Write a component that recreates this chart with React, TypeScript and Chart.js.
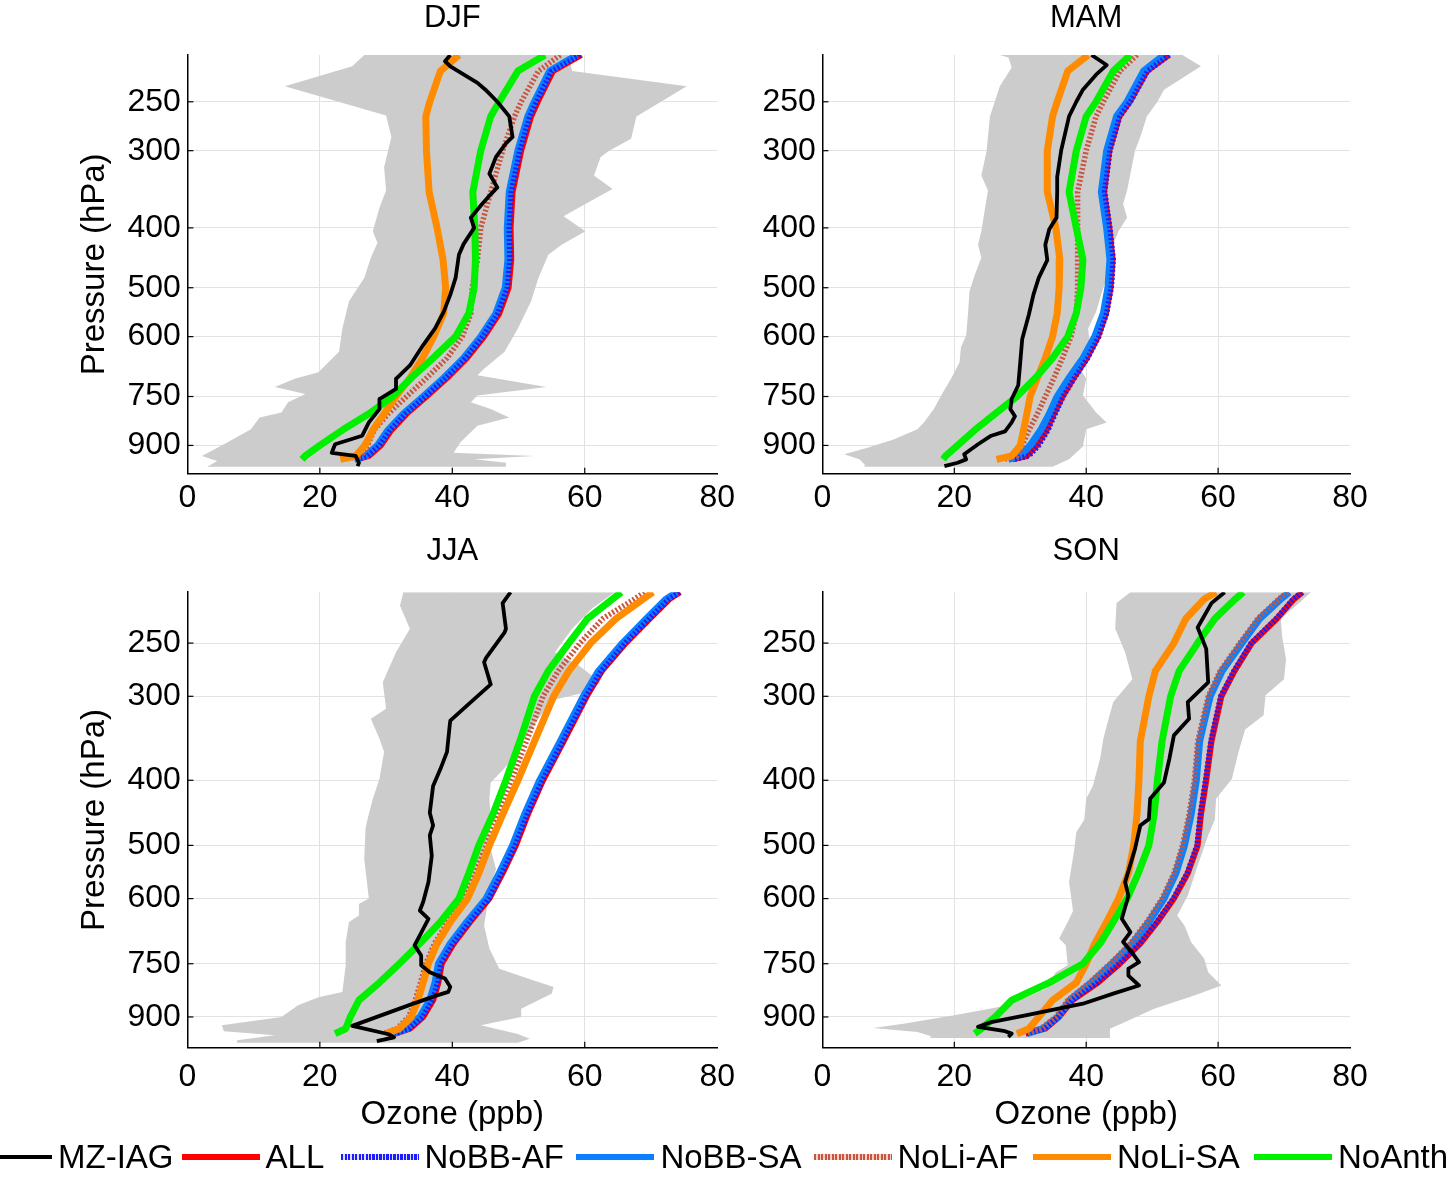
import React, { useEffect, useRef } from 'react';
import { Chart, registerables } from 'chart.js';

Chart.register(...registerables);

const FONT = "'Liberation Sans', Arial, Helvetica, sans-serif";

// ---- axis ticks ----
const P_TICKS = [250, 300, 400, 500, 600, 750, 900];
const X_TICKS = [0, 20, 40, 60, 80];
const X_INNER_TICKS = [20, 40, 60];

// ---- model pressure levels (hPa) ----
const P_TOP = [210, 223, 250, 264, 300, 350, 400, 450, 500, 550, 600, 650, 700, 750, 800, 850, 900, 936, 948];
const P_BOT = [210, 215, 230, 250, 275, 300, 350, 400, 450, 500, 550, 600, 650, 700, 750, 800, 850, 900, 937, 953];

// ---- DJF ----
const DJF_ALL = [59.5, 55.2, 52.9, 51.9, 50.4, 49.1, 48.8, 48.9, 48.5, 47.1, 44.8, 42.2, 39.2, 36.1, 33.1, 30.8, 29.2, 27.4, 25.7];
const DJF_NOBB_AF = [59.3, 55.0, 52.7, 51.7, 50.2, 48.9, 48.6, 48.7, 48.3, 46.9, 44.6, 42.0, 39.0, 35.9, 32.9, 30.6, 29.0, 27.2, 25.5];
const DJF_NOBB_SA = [58.8, 54.7, 52.4, 51.4, 49.9, 48.6, 48.3, 48.4, 48.0, 46.6, 44.3, 41.7, 38.7, 35.6, 32.6, 30.3, 28.7, 26.9, 25.2];
const DJF_NOLI_AF = [56.3, 53.0, 50.4, 49.4, 47.6, 45.8, 44.3, 43.8, 43.0, 42.8, 41.5, 39.2, 36.1, 33.1, 30.3, 28.2, 27.2, 26.2, 23.6];
const DJF_NOLI_SA = [41.0, 38.2, 36.6, 36.0, 36.1, 36.5, 37.7, 38.6, 39.0, 38.7, 37.2, 35.5, 33.6, 31.5, 29.7, 28.0, 26.8, 25.4, 23.1];
const DJF_NOANTH = [54.0, 49.9, 47.1, 45.8, 44.3, 43.1, 43.4, 43.5, 43.3, 42.5, 40.5, 37.1, 33.8, 31.0, 27.4, 23.4, 20.0, 17.8, 17.3];
const DJF_OBS_P = [210, 215, 219, 233, 239, 250, 264, 285, 292, 307, 327, 344, 353, 366, 385, 400, 425, 442, 482, 513, 547, 582, 619, 668, 702, 729, 757, 786, 826, 868, 896, 925, 936, 960, 972];
const DJF_OBS = [39.7, 38.9, 39.7, 43.8, 45.0, 46.8, 48.6, 49.1, 48.1, 46.6, 45.6, 46.8, 45.8, 44.5, 42.8, 43.3, 41.7, 41.0, 40.5, 39.7, 38.7, 37.4, 35.6, 33.6, 31.5, 31.5, 29.0, 29.0, 27.4, 26.4, 22.3, 21.8, 25.4, 25.9, 25.7];
const DJF_ENV_L_P = [210, 219, 236, 263, 285, 319, 348, 371, 405, 423, 447, 482, 526, 582, 635, 660, 685, 702, 724, 743, 766, 796, 811, 847, 890, 936, 954, 974];
const DJF_ENV_L = [26.7, 24.9, 14.7, 30.0, 30.8, 29.7, 30.0, 29.0, 28.0, 28.7, 27.7, 26.7, 24.4, 23.4, 22.9, 21.3, 19.8, 16.2, 13.2, 17.8, 15.2, 14.2, 10.9, 9.6, 6.0, 2.2, 4.5, 3.0];
const DJF_ENV_R_P = [210, 223, 236, 264, 287, 300, 307, 329, 346, 362, 383, 405, 426, 442, 482, 526, 582, 635, 676, 693, 724, 747, 766, 786, 811, 836, 890, 925, 936, 948, 960, 974];
const DJF_ENV_R = [57.5, 58.1, 75.4, 67.8, 67.0, 63.7, 62.4, 61.4, 64.2, 60.9, 56.8, 60.1, 56.5, 54.5, 53.0, 51.9, 49.9, 47.9, 44.8, 43.8, 54.2, 43.8, 42.8, 45.8, 48.6, 43.8, 41.2, 40.2, 52.4, 43.3, 48.1, 48.1];

// ---- MAM ----
const MAM_ALL = [52.5, 49.2, 46.6, 45.0, 43.5, 42.7, 43.5, 44.0, 43.7, 43.0, 41.8, 40.1, 38.1, 36.4, 35.1, 34.0, 32.5, 31.0, 28.8];
const MAM_NOBB_AF = [52.6, 49.3, 46.7, 45.1, 43.6, 42.8, 43.6, 44.1, 43.8, 43.1, 41.9, 40.2, 38.2, 36.5, 35.3, 34.2, 32.8, 31.3, 29.0];
const MAM_NOBB_SA = [51.8, 48.7, 46.2, 44.6, 43.1, 42.3, 43.1, 43.6, 43.3, 42.6, 41.3, 39.5, 37.4, 35.6, 34.4, 33.1, 31.5, 30.0, 28.2];
const MAM_NOLI_AF = [47.7, 45.1, 42.6, 41.5, 40.0, 38.7, 38.7, 38.7, 38.7, 38.5, 37.7, 36.4, 35.1, 33.8, 32.6, 31.3, 30.3, 29.5, 27.7];
const MAM_NOLI_SA = [40.3, 37.2, 35.6, 34.9, 34.1, 34.1, 35.4, 36.0, 35.9, 35.6, 34.9, 33.8, 32.6, 31.5, 31.0, 30.5, 30.0, 28.7, 26.4];
const MAM_NOANTH = [46.7, 44.1, 41.5, 40.0, 38.5, 37.4, 38.5, 39.5, 39.2, 38.5, 37.2, 34.9, 32.3, 29.5, 26.2, 23.1, 20.5, 18.7, 18.3];
const MAM_OBS_P = [210, 218, 226, 239, 250, 264, 300, 331, 350, 385, 402, 426, 451, 482, 513, 553, 605, 660, 719, 757, 786, 807, 826, 854, 868, 896, 930, 948, 960, 972];
const MAM_OBS = [40.8, 43.1, 41.5, 39.5, 38.5, 37.4, 36.2, 35.6, 35.6, 35.5, 34.4, 33.8, 34.1, 32.8, 32.0, 31.3, 30.3, 30.0, 29.7, 28.7, 28.5, 29.2, 28.7, 27.7, 25.6, 23.6, 21.5, 21.8, 20.5, 18.5];
const MAM_ENV_L_P = [210, 212, 220, 236, 264, 300, 329, 348, 405, 426, 447, 477, 507, 547, 597, 625, 660, 702, 747, 786, 826, 847, 880, 909, 930, 948, 966, 974];
const MAM_ENV_L = [26.9, 28.2, 28.7, 26.9, 25.4, 24.9, 24.1, 25.1, 24.1, 23.6, 24.1, 23.1, 22.3, 22.1, 21.8, 21.0, 20.8, 19.5, 18.0, 16.9, 15.4, 14.4, 10.8, 6.7, 3.3, 5.6, 6.4, 6.4];
const MAM_ENV_R_P = [210, 219, 239, 250, 264, 285, 300, 319, 348, 366, 385, 405, 426, 447, 500, 547, 582, 611, 660, 702, 747, 796, 826, 847, 904, 948, 974];
const MAM_ENV_R = [54.6, 57.4, 51.8, 50.8, 49.2, 48.2, 47.4, 46.9, 46.2, 45.6, 46.2, 44.9, 44.1, 44.1, 42.6, 41.5, 40.3, 40.5, 38.5, 40.0, 39.5, 41.5, 43.1, 40.0, 39.5, 37.4, 34.9];

// ---- JJA ----
const JJA_ALL = [74.4, 72.8, 69.8, 66.2, 62.6, 60.3, 56.8, 53.7, 51.4, 49.6, 47.6, 45.6, 42.7, 40.2, 38.4, 37.9, 37.1, 35.6, 33.6, 31.4];
const JJA_NOBB_AF = [74.3, 72.7, 69.7, 66.1, 62.5, 60.2, 56.7, 53.6, 51.3, 49.5, 47.5, 45.5, 42.6, 40.1, 38.3, 37.8, 37.0, 35.5, 33.5, 31.3];
const JJA_NOBB_SA = [73.9, 72.3, 69.3, 65.7, 62.1, 59.8, 56.3, 53.2, 50.9, 49.1, 47.1, 45.1, 42.2, 39.7, 37.9, 37.4, 36.6, 35.1, 33.1, 31.0];
const JJA_NOLI_AF = [69.0, 67.5, 62.7, 59.3, 56.0, 53.7, 51.2, 48.9, 46.9, 45.1, 43.5, 41.8, 39.3, 37.3, 36.0, 35.2, 34.4, 33.4, 31.6, 29.6];
const JJA_NOLI_SA = [70.3, 68.8, 64.7, 60.9, 57.6, 55.3, 52.4, 49.9, 47.6, 45.6, 44.0, 42.3, 39.7, 37.7, 36.4, 35.6, 34.8, 33.8, 32.0, 30.0];
const JJA_NOANTH = [65.5, 64.2, 60.4, 57.6, 54.5, 52.4, 50.2, 48.1, 46.1, 44.0, 42.5, 41.0, 38.2, 35.1, 32.0, 29.0, 25.9, 24.6, 23.9, 22.3];
const JJA_OBS_P = [210, 218, 238, 241, 263, 267, 288, 306, 326, 332, 363, 385, 408, 447, 467, 483, 518, 567, 607, 625, 643, 704, 729, 754, 772, 789, 812, 826, 836, 862, 928, 955, 965, 978];
const JJA_OBS = [48.8, 47.6, 48.1, 47.9, 45.1, 44.8, 45.8, 42.8, 39.7, 39.6, 39.2, 38.2, 37.1, 36.6, 37.1, 36.6, 36.9, 36.4, 35.6, 35.1, 36.4, 34.3, 35.3, 35.3, 36.6, 38.9, 39.7, 39.4, 37.7, 33.8, 24.9, 30.4, 31.2, 28.6];
const JJA_ENV_L_P = [210, 220, 238, 258, 286, 313, 324, 347, 363, 398, 426, 457, 472, 524, 600, 611, 636, 650, 696, 754, 826, 841, 865, 900, 926, 945, 958, 975, 983];
const JJA_ENV_L = [32.6, 32.1, 33.6, 31.5, 29.5, 30.0, 27.7, 29.0, 29.7, 29.0, 28.0, 27.2, 26.9, 26.7, 27.4, 25.9, 25.9, 24.4, 23.9, 23.9, 23.4, 19.8, 16.7, 14.2, 5.2, 5.5, 13.2, 7.5, 7.5];
const JJA_ENV_R_P = [210, 222, 238, 258, 270, 286, 296, 304, 324, 347, 372, 389, 403, 426, 457, 483, 506, 542, 580, 614, 658, 712, 763, 789, 812, 831, 875, 900, 926, 954, 970, 983];
const JJA_ENV_R = [64.5, 61.1, 58.1, 55.5, 59.1, 62.4, 60.1, 55.0, 53.0, 50.9, 49.1, 47.3, 45.8, 45.6, 45.8, 45.6, 45.8, 46.6, 45.6, 45.3, 44.8, 45.6, 47.1, 51.4, 55.3, 55.0, 50.4, 50.4, 44.3, 49.9, 51.7, 49.9];

// ---- SON ----
const SON_ALL = [72.8, 71.5, 68.9, 65.1, 62.5, 60.5, 59.0, 58.2, 57.4, 56.9, 55.4, 53.3, 50.8, 48.2, 45.1, 41.8, 37.9, 35.9, 33.8, 30.8];
const SON_NOBB_AF = [72.7, 71.4, 68.8, 65.0, 62.4, 60.4, 58.9, 58.1, 57.3, 56.8, 55.3, 53.2, 50.7, 48.1, 45.0, 41.7, 37.8, 35.8, 33.7, 30.8];
const SON_NOBB_SA = [70.8, 69.5, 66.3, 63.6, 60.6, 58.8, 57.2, 56.7, 55.9, 54.9, 53.6, 51.8, 49.5, 47.0, 43.9, 40.8, 37.5, 35.7, 33.4, 31.0];
const SON_NOLI_AF = [70.5, 69.2, 66.0, 63.3, 60.3, 58.5, 56.9, 56.4, 55.6, 54.6, 53.3, 51.5, 49.2, 46.7, 43.6, 40.5, 37.2, 35.4, 33.1, 30.8];
const SON_NOLI_SA = [59.7, 57.9, 55.1, 53.3, 50.5, 49.5, 48.2, 48.0, 47.7, 47.2, 46.4, 44.9, 43.1, 41.3, 40.0, 38.5, 34.9, 32.8, 31.3, 29.5];
const SON_NOANTH = [63.8, 62.6, 59.5, 56.9, 54.1, 52.8, 51.5, 50.8, 50.3, 49.5, 47.9, 46.2, 44.1, 42.1, 39.5, 34.4, 28.7, 26.2, 24.1, 23.1];
const SON_OBS_P = [210, 218, 237, 255, 286, 306, 324, 343, 372, 403, 426, 457, 467, 506, 567, 594, 643, 673, 696, 721, 746, 763, 781, 808, 831, 860, 895, 916, 931, 945, 953, 964];
const SON_OBS = [61.0, 59.0, 56.9, 58.2, 58.5, 55.4, 55.6, 53.3, 52.6, 51.8, 49.7, 49.5, 48.2, 47.4, 45.9, 46.4, 45.4, 46.7, 45.6, 46.9, 48.0, 46.4, 46.4, 48.0, 44.1, 39.5, 30.8, 25.6, 23.6, 27.7, 28.7, 28.2];
const SON_ENV_L_P = [210, 218, 238, 258, 283, 306, 332, 347, 372, 408, 426, 458, 478, 506, 567, 626, 650, 688, 704, 754, 772, 818, 865, 895, 921, 935, 948, 961, 967];
const SON_ENV_L = [46.7, 44.6, 44.4, 45.9, 47.0, 44.1, 43.1, 42.6, 42.1, 41.0, 40.0, 39.7, 38.5, 38.2, 37.4, 38.0, 37.2, 35.9, 36.9, 37.2, 35.4, 33.8, 28.2, 20.0, 12.3, 7.7, 14.4, 16.4, 16.4];
const SON_ENV_R_P = [210, 220, 230, 244, 264, 283, 299, 320, 336, 363, 398, 426, 458, 483, 536, 594, 636, 658, 696, 737, 772, 808, 836, 875, 911, 937, 967];
const SON_ENV_R = [74.1, 71.8, 69.5, 69.7, 70.3, 70.0, 67.2, 66.9, 64.1, 63.1, 62.1, 59.7, 59.5, 58.5, 56.9, 55.4, 53.8, 54.9, 55.9, 57.9, 58.5, 60.5, 56.4, 50.3, 46.4, 43.6, 43.6];

// ---- series styles ----
const C_OBS = '#000000';
const C_ALL = '#ff0000';
const C_NOBB_AF = '#1c1cff';
const C_NOBB_SA = '#0a80ff';
const C_NOLI_AF = '#c8553d';
const C_NOLI_SA = '#ff8c00';
const C_NOANTH = '#00f000';
const C_RANGE = '#cccccc';

type Pt = { x: number; y: number };
const zip = (ps: number[], xs: number[]): Pt[] => ps.map((p, i) => ({ x: xs[i], y: p }));
const envelope = (lp: number[], lx: number[], rp: number[], rx: number[]): Pt[] => [
  ...zip(lp, lx),
  ...zip(rp, rx).reverse(),
];

type Spec = {
  title: string;
  left: number;
  top: number;
  w: number;
  h: number;
  padRight: number;
  titlePadBottom: number;
  xAxisH: number;
  xTickPad: number;
  yTitle: boolean;
  xTitle: boolean;
  p: number[];
  all: number[];
  nobbAf: number[];
  nobbSa: number[];
  noliAf: number[];
  noliSa: number[];
  noanth: number[];
  obsP: number[];
  obs: number[];
  envLP: number[];
  envL: number[];
  envRP: number[];
  envR: number[];
};

const PANELS: Spec[] = [
  {
    title: 'DJF', left: 0, top: 0, w: 741, h: 530, padRight: 23.8, titlePadBottom: 17.8, xAxisH: 56.3, xTickPad: 5,
    yTitle: true, xTitle: false, p: P_TOP,
    all: DJF_ALL, nobbAf: DJF_NOBB_AF, nobbSa: DJF_NOBB_SA, noliAf: DJF_NOLI_AF, noliSa: DJF_NOLI_SA, noanth: DJF_NOANTH,
    obsP: DJF_OBS_P, obs: DJF_OBS, envLP: DJF_ENV_L_P, envL: DJF_ENV_L, envRP: DJF_ENV_R_P, envR: DJF_ENV_R,
  },
  {
    title: 'MAM', left: 635, top: 0, w: 739, h: 530, padRight: 24, titlePadBottom: 17.8, xAxisH: 56.3, xTickPad: 5,
    yTitle: false, xTitle: false, p: P_TOP,
    all: MAM_ALL, nobbAf: MAM_NOBB_AF, nobbSa: MAM_NOBB_SA, noliAf: MAM_NOLI_AF, noliSa: MAM_NOLI_SA, noanth: MAM_NOANTH,
    obsP: MAM_OBS_P, obs: MAM_OBS, envLP: MAM_ENV_L_P, envL: MAM_ENV_L, envRP: MAM_ENV_R_P, envR: MAM_ENV_R,
  },
  {
    title: 'JJA', left: 0, top: 533, w: 746, h: 607, padRight: 28.8, titlePadBottom: 22, xAxisH: 92.3, xTickPad: 10,
    yTitle: true, xTitle: true, p: P_BOT,
    all: JJA_ALL, nobbAf: JJA_NOBB_AF, nobbSa: JJA_NOBB_SA, noliAf: JJA_NOLI_AF, noliSa: JJA_NOLI_SA, noanth: JJA_NOANTH,
    obsP: JJA_OBS_P, obs: JJA_OBS, envLP: JJA_ENV_L_P, envL: JJA_ENV_L, envRP: JJA_ENV_R_P, envR: JJA_ENV_R,
  },
  {
    title: 'SON', left: 635, top: 533, w: 744, h: 607, padRight: 29, titlePadBottom: 22, xAxisH: 92.3, xTickPad: 10,
    yTitle: false, xTitle: true, p: P_BOT,
    all: SON_ALL, nobbAf: SON_NOBB_AF, nobbSa: SON_NOBB_SA, noliAf: SON_NOLI_AF, noliSa: SON_NOLI_SA, noanth: SON_NOANTH,
    obsP: SON_OBS_P, obs: SON_OBS, envLP: SON_ENV_L_P, envL: SON_ENV_L, envRP: SON_ENV_R_P, envR: SON_ENV_R,
  },
];

const innerTicks = {
  id: 'innerTicks',
  afterDraw(chart: any) {
    const { ctx, chartArea: a, scales } = chart;
    ctx.save();
    ctx.strokeStyle = '#000';
    ctx.lineWidth = 1.2;
    X_INNER_TICKS.forEach((v) => {
      const px = scales.x.getPixelForValue(v);
      ctx.beginPath();
      ctx.moveTo(px, a.bottom);
      ctx.lineTo(px, a.bottom - 6);
      ctx.stroke();
    });
    P_TICKS.forEach((v) => {
      const py = scales.y.getPixelForValue(v);
      ctx.beginPath();
      ctx.moveTo(a.left, py);
      ctx.lineTo(a.left + 6, py);
      ctx.stroke();
    });
    ctx.restore();
  },
};

function makeConfig(s: Spec): any {
  const line = (label: string, data: Pt[], color: string, width: number, dash: number[] = []) => ({
    label,
    data,
    borderColor: color,
    backgroundColor: color,
    borderWidth: width,
    borderDash: dash,
    borderJoinStyle: 'round',
    borderCapStyle: 'butt',
    pointRadius: 0,
    pointHoverRadius: 0,
    fill: false,
    tension: 0,
    clip: 0,
  });
  const GRID = '#e2e2e2';
  return {
    type: 'line',
    data: {
      datasets: [
        line('MZ-IAG', zip(s.obsP, s.obs), C_OBS, 3.8),
        line('NoAnth', zip(s.p, s.noanth), C_NOANTH, 7),
        line('NoLi-SA', zip(s.p, s.noliSa), C_NOLI_SA, 7),
        line('NoLi-AF', zip(s.p, s.noliAf), C_NOLI_AF, 5.5, [2, 2]),
        line('NoBB-AF', zip(s.p, s.nobbAf), C_NOBB_AF, 5.5, [2, 2]),
        line('NoBB-SA', zip(s.p, s.nobbSa), C_NOBB_SA, 7),
        line('ALL', zip(s.p, s.all), C_ALL, 6),
        {
          label: 'MZ-IAG range',
          data: envelope(s.envLP, s.envL, s.envRP, s.envR),
          borderWidth: 0,
          borderColor: 'rgba(0,0,0,0)',
          backgroundColor: C_RANGE,
          fill: 'shape',
          pointRadius: 0,
          pointHoverRadius: 0,
          tension: 0,
          clip: 0,
        },
      ],
    },
    options: {
      responsive: false,
      maintainAspectRatio: false,
      animation: false,
      events: [],
      layout: { padding: { left: 0, right: s.padRight, top: 0, bottom: 0 } },
      plugins: {
        legend: { display: false },
        tooltip: { enabled: false },
        title: {
          display: true,
          text: s.title,
          color: '#000',
          fullSize: false,
          font: { family: FONT, size: 31, weight: 'normal' },
          padding: { top: 0, bottom: s.titlePadBottom },
        },
      },
      scales: {
        x: {
          type: 'linear',
          min: 0,
          max: 80,
          afterBuildTicks: (sc: any) => {
            sc.ticks = X_TICKS.map((v) => ({ value: v }));
          },
          afterFit: (sc: any) => {
            sc.height = s.xAxisH;
          },
          ticks: {
            autoSkip: false,
            maxRotation: 0,
            padding: s.xTickPad,
            color: '#000',
            font: { family: FONT, size: 32 },
            callback: (v: any) => String(v),
          },
          grid: {
            drawTicks: false,
            lineWidth: 1,
            color: (c: any) => (c.tick && (c.tick.value === 0 || c.tick.value === 80) ? 'rgba(0,0,0,0)' : GRID),
          },
          border: { display: true, color: '#000', width: 1.5 },
          title: {
            display: s.xTitle,
            text: 'Ozone (ppb)',
            color: '#000',
            font: { family: FONT, size: 33 },
            padding: { top: 0, bottom: 5.2 },
          },
        },
        y: {
          type: 'logarithmic',
          min: 210,
          max: 1000,
          reverse: true,
          afterBuildTicks: (sc: any) => {
            sc.ticks = P_TICKS.map((v) => ({ value: v }));
          },
          afterFit: (sc: any) => {
            sc.width = 187.4;
          },
          ticks: {
            autoSkip: false,
            padding: 6.5,
            color: '#000',
            font: { family: FONT, size: 32 },
            callback: (v: any) => String(v),
          },
          grid: { drawTicks: false, lineWidth: 1, color: GRID },
          border: { display: true, color: '#000', width: 1.5 },
          title: {
            display: s.yTitle,
            text: 'Pressure (hPa)',
            color: '#000',
            font: { family: FONT, size: 33 },
            padding: { top: 75, bottom: 0 },
          },
        },
      },
    },
    plugins: [innerTicks],
  };
}

function Panel({ spec }: { spec: Spec }) {
  const ref = useRef<HTMLCanvasElement>(null);
  useEffect(() => {
    if (!ref.current) return;
    const chart = new Chart(ref.current, makeConfig(spec));
    return () => chart.destroy();
  }, [spec]);
  return (
    <canvas
      ref={ref}
      width={spec.w}
      height={spec.h}
      style={{ position: 'absolute', left: spec.left, top: spec.top, width: spec.w, height: spec.h, display: 'block' }}
    />
  );
}

const LEGEND_ITEMS = [
  { label: 'MZ-IAG', bg: C_OBS, h: 3.5 },
  { label: 'ALL', bg: C_ALL, h: 6 },
  { label: 'NoBB-AF', bg: `repeating-linear-gradient(90deg, ${C_NOBB_AF} 0px, ${C_NOBB_AF} 2px, #dcdcff 2px, #dcdcff 3.5px)`, h: 6 },
  { label: 'NoBB-SA', bg: C_NOBB_SA, h: 6 },
  { label: 'NoLi-AF', bg: `repeating-linear-gradient(90deg, ${C_NOLI_AF} 0px, ${C_NOLI_AF} 2px, #f4d0c8 2px, #f4d0c8 3.5px)`, h: 6 },
  { label: 'NoLi-SA', bg: C_NOLI_SA, h: 6 },
  { label: 'NoAnth', bg: C_NOANTH, h: 6 },
];
const LEGEND_SAMPLE_X = [-26, 181.6, 340.5, 576.4, 813.5, 1033, 1254];

function Legend() {
  const cy = 1157;
  return (
    <>
      {LEGEND_ITEMS.map((it, i) => (
        <React.Fragment key={it.label}>
          <div
            style={{
              position: 'absolute',
              left: LEGEND_SAMPLE_X[i],
              top: cy - it.h / 2,
              width: 78,
              height: it.h,
              background: it.bg,
            }}
          />
          <div
            style={{
              position: 'absolute',
              left: LEGEND_SAMPLE_X[i] + 84,
              top: cy - 20,
              height: 40,
              lineHeight: '40px',
              fontFamily: FONT,
              fontSize: 33,
              color: '#000',
              whiteSpace: 'nowrap',
            }}
          >
            {it.label}
          </div>
        </React.Fragment>
      ))}
    </>
  );
}

export default function App() {
  return (
    <div
      style={{
        position: 'absolute',
        left: 0,
        top: 0,
        width: 1452,
        height: 1177,
        background: '#fff',
        overflow: 'hidden',
      }}
    >
      {PANELS.map((s) => (
        <Panel key={s.title} spec={s} />
      ))}
      <Legend />
    </div>
  );
}
